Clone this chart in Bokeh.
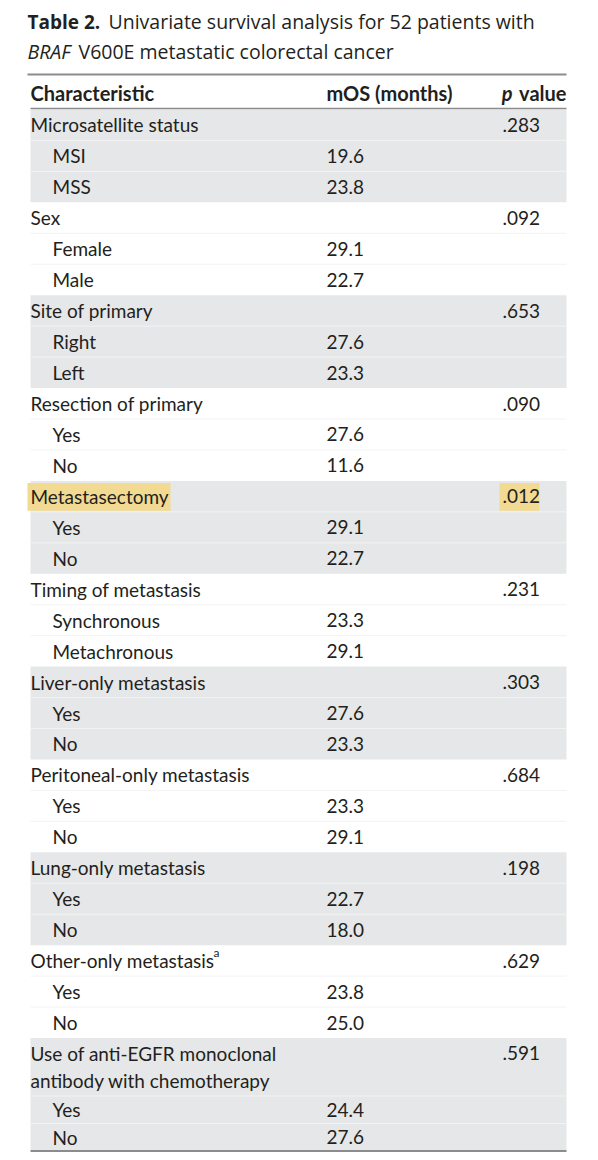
from bokeh.plotting import figure
from bokeh.models import Range1d
from bokeh.core.properties import value
from bokeh.embed import file_html
from bokeh.resources import INLINE

# ---------------- data ----------------
groups = ["Microsatellite status", "Sex", "Site of primary", "Resection of primary",
          "Metastasectomy", "Timing of metastasis", "Liver-only metastasis",
          "Peritoneal-only metastasis", "Lung-only metastasis", "Other-only metastasis",
          "Use of anti-EGFR monoclonal|antibody with chemotherapy"]
p_values = [".283", ".092", ".653", ".090", ".012", ".231", ".303", ".684", ".198", ".629", ".591"]
levels = [["MSI", "MSS"], ["Female", "Male"], ["Right", "Left"], ["Yes", "No"], ["Yes", "No"],
          ["Synchronous", "Metachronous"], ["Yes", "No"], ["Yes", "No"], ["Yes", "No"],
          ["Yes", "No"], ["Yes", "No"]]
mos = [[19.6, 23.8], [29.1, 22.7], [27.6, 23.3], [27.6, 11.6], [29.1, 22.7], [23.3, 29.1],
       [27.6, 23.3], [23.3, 29.1], [22.7, 18.0], [23.8, 25.0], [24.4, 27.6]]
headers = ["Characteristic", "mOS (months)", "p value"]
title_bold = "Table 2."
title_rest = "Univariate survival analysis for 52 patients with"
title_italic = "BRAF"
title_line2 = "V600E metastatic colorectal cancer"
highlighted = "Metastasectomy"
footnoted = "Other-only metastasis"

# ---------------- style ----------------
TXT = "#231f20"
SHADE = "#e6e7e8"
RULE = "#8c8c8c"
HIL = "#f2da92"
FONT = value("Lato")
TFONT = value("Open Sans")
FS = "19px"
HFS = "20px"

X0, X1 = 31, 567
XC1, XIND, XC2, XC3 = 31, 53, 327, 503
ROW_H = 30.95

p = figure(width=582, height=1152, x_range=Range1d(1, 583), y_range=Range1d(1153, 1),
           output_backend="svg", toolbar_location=None, min_border=0)
p.axis.visible = False
p.grid.visible = False
p.outline_line_color = None
p.background_fill_color = "white"

# title
p.text(x=[28], y=[22], text=[title_bold], text_font=TFONT, text_font_size="19px",
       text_font_style="bold", text_color=TXT, text_baseline="middle")
p.text(x=[109], y=[22], text=[title_rest], text_font=TFONT, text_font_size="19.5px",
       text_color=TXT, text_baseline="middle")
p.text(x=[28], y=[52], text=[title_italic], text_font=TFONT, text_font_size="19.5px",
       text_font_style="italic", text_color=TXT, text_baseline="middle")
p.text(x=[79], y=[52], text=[title_line2], text_font=TFONT, text_font_size="19.5px",
       text_color=TXT, text_baseline="middle")

# header
p.text(x=[XC1, XC2], y=[93, 93], text=headers[:2], text_font=FONT, text_font_size=HFS,
       text_font_style="bold", text_color=TXT, text_baseline="middle")
p.text(x=[X1], y=[93], text=[headers[2].split(" ", 1)[1]], text_font=FONT, text_font_size=HFS,
       text_font_style="bold", text_color=TXT, text_baseline="middle", text_align="right")
p.text(x=[X1 - 54], y=[93], text=[headers[2].split(" ", 1)[0]], text_font=FONT, text_font_size=HFS,
       text_font_style="bold italic", text_color=TXT, text_baseline="middle", text_align="right")

# body layout
y = 110.0
shade_l, shade_r, shade_t, shade_b = [], [], [], []
sep_y = []
c1x, c1y, c1t = [], [], []
c2x, c2y, c2t = [], [], []
c3x, c3y, c3t = [], [], []
hil = None
sup = None
for gi, g in enumerate(groups):
    top = y
    lines = g.split("|")
    last = gi == len(groups) - 1
    h = ROW_H if len(lines) == 1 else 58
    if len(lines) == 1:
        c1x.append(XC1); c1y.append(y + h / 2); c1t.append(g)
    else:
        for li, ln in enumerate(lines):
            c1x.append(XC1); c1y.append(y + 15 + li * 27); c1t.append(ln)
    c3x.append(XC3); c3y.append(y + 15 if len(lines) > 1 else y + h / 2); c3t.append(p_values[gi])
    if g == highlighted:
        hil = (y + 2, y + h - 1)
    if g == footnoted:
        sup = y + h / 2 - 8
    y += h
    for lv, mv in zip(levels[gi], mos[gi]):
        sep_y.append(y)
        hh = 27.5 if last else ROW_H
        c1x.append(XIND); c1y.append(y + hh / 2); c1t.append(lv)
        c2x.append(XC2); c2y.append(y + hh / 2); c2t.append(f"{mv:.1f}")
        y += hh
    if gi % 2 == 0:
        shade_l.append(X0); shade_r.append(X1); shade_t.append(top); shade_b.append(y)
bottom = y

p.quad(left=shade_l, right=shade_r, top=shade_t, bottom=shade_b, fill_color=SHADE, line_color=None)
p.segment(x0=[X0] * len(sep_y), x1=[X1] * len(sep_y), y0=sep_y, y1=sep_y,
          line_color="#f3f3f4", line_width=1)
if hil:
    p.quad(left=[28, 500], right=[171, 540], top=[hil[0]] * 2, bottom=[hil[1]] * 2,
           fill_color=HIL, line_color=None)

for xs, ys, ts in [(c1x, c1y, c1t), (c2x, c2y, c2t), (c3x, c3y, c3t)]:
    p.text(x=xs, y=ys, text=ts, text_font=FONT, text_font_size=FS, text_color=TXT,
           text_baseline="middle")
if sup:
    p.text(x=[214], y=[sup], text=["a"], text_font=FONT, text_font_size="12px",
           text_color=TXT, text_baseline="middle")

# rules
p.segment(x0=[X0 - 3, X0, X0], x1=[X1, X1, X1], y0=[75, 109, bottom], y1=[75, 109, bottom],
          line_color=RULE, line_width=[2, 1.5, 2])

open("out.html", "w").write(file_html(p, INLINE))
